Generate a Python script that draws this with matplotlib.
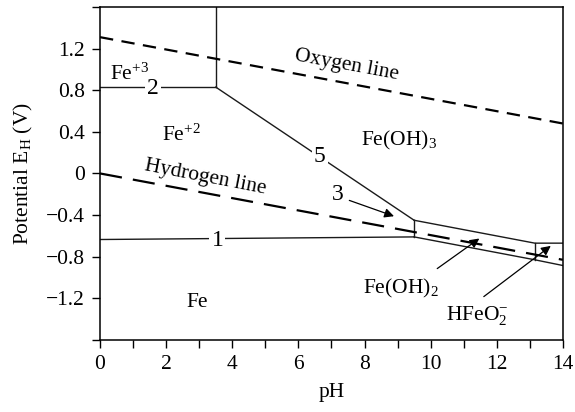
import matplotlib
matplotlib.use("Agg")
import matplotlib.pyplot as plt

plt.rcParams["font.family"] = ["Liberation Serif", "DejaVu Serif"]
plt.rcParams["mathtext.fontset"] = "custom"
plt.rcParams["mathtext.rm"] = "Liberation Serif"
plt.rcParams["mathtext.it"] = "Liberation Serif:italic"
plt.rcParams["font.size"] = 15.5

# water stability lines
oxygen_ph = [0, 14]
oxygen_e = [1.31, 0.48]
hydrogen_ph = [0, 14]
hydrogen_e = [0.0, -0.83]

# phase boundaries
line1_ph = [0, 9.5]
line1_e = [-0.635, -0.61]
line2_ph = [0, 3.5]
line2_e = [0.83, 0.83]
vert35_ph = [3.5, 3.5]
vert35_e = [0.83, 1.6]
line5_ph = [3.5, 9.5]
line5_e = [0.83, -0.45]
feoh2_top_ph = [9.5, 13.15, 14]
feoh2_top_e = [-0.45, -0.67, -0.67]
feoh2_bot_ph = [9.5, 13.15, 14]
feoh2_bot_e = [-0.61, -0.83, -0.885]
vert95_ph = [9.5, 9.5]
vert95_e = [-0.61, -0.45]
vert1315_ph = [13.15, 13.15]
vert1315_e = [-0.83, -0.67]

y_ticks = [-1.6, -1.2, -0.8, -0.4, 0, 0.4, 0.8, 1.2, 1.6]
y_labels = ["", "\u22121.2", "\u22120.8", "\u22120.4", "0", "0.4", "0.8", "1.2", ""]
x_ticks = [0, 2, 4, 6, 8, 10, 12, 14]

fig = plt.figure(figsize=(5.75, 4.12), dpi=100)
ax = fig.add_axes([0.174, 0.175, 0.805, 0.808])

lw = 1.0
for px, ey in [(line1_ph, line1_e), (line2_ph, line2_e), (vert35_ph, vert35_e),
               (line5_ph, line5_e), (feoh2_top_ph, feoh2_top_e),
               (feoh2_bot_ph, feoh2_bot_e), (vert95_ph, vert95_e),
               (vert1315_ph, vert1315_e)]:
    ax.plot(px, ey, color="#1a1a1a", lw=lw)

ax.plot(oxygen_ph, oxygen_e, color="black", lw=1.6, dashes=(6, 3.8))
ax.plot(hydrogen_ph, hydrogen_e, color="black", lw=1.6, dashes=(10, 5))

box = dict(facecolor="white", edgecolor="none", pad=1.5)
ax.text(1.6, 0.82, "2", ha="center", va="center", bbox=box, fontsize=17)
ax.text(3.55, -0.645, "1", ha="center", va="center", bbox=box, fontsize=17)
ax.text(6.65, 0.16, "5", ha="center", va="center", bbox=box, fontsize=17)
ax.text(7.2, -0.2, "3", ha="center", va="center", fontsize=17)

ax.text(0.9, 0.95, "Fe$^{+3}$", ha="center", va="center")
ax.text(2.45, 0.37, "Fe$^{+2}$", ha="center", va="center")
ax.text(9.05, 0.32, "Fe(OH)$_3$", ha="center", va="center")
ax.text(2.93, -1.24, "Fe", ha="center", va="center")
ax.text(9.1, -1.11, "Fe(OH)$_2$", ha="center", va="center")
ax.text(11.4, -1.37, "HFeO$_2^{-}$", ha="center", va="center")
ax.text(7.46, 1.04, "Oxygen line", ha="center", va="center", rotation=-10.5)
ax.text(3.2, -0.035, "Hydrogen line", ha="center", va="center", rotation=-11)

arrow = dict(arrowstyle="-|>", color="black", lw=0.9, mutation_scale=14)
ax.annotate("", xy=(8.97, -0.42), xytext=(7.46, -0.25), arrowprops=arrow)
ax.annotate("", xy=(11.54, -0.61), xytext=(10.13, -0.93), arrowprops=arrow)
ax.annotate("", xy=(13.7, -0.68), xytext=(11.54, -1.2), arrowprops=arrow)

ax.set_xlim(0, 14)
ax.set_ylim(-1.6, 1.6)
ax.set_xticks(x_ticks)
ax.set_xticks(range(0, 15), minor=True)
ax.set_yticks(y_ticks)
ax.set_yticklabels(y_labels)
ax.tick_params(which="both", direction="out", length=6, width=1.0, pad=5)
for s in ax.spines.values():
    s.set_linewidth(1.1)
ax.set_xlabel("pH", labelpad=6)
ax.set_ylabel("Potential E$_\\mathrm{H}$ (V)", labelpad=8)

fig.savefig("out.png", dpi=100)
